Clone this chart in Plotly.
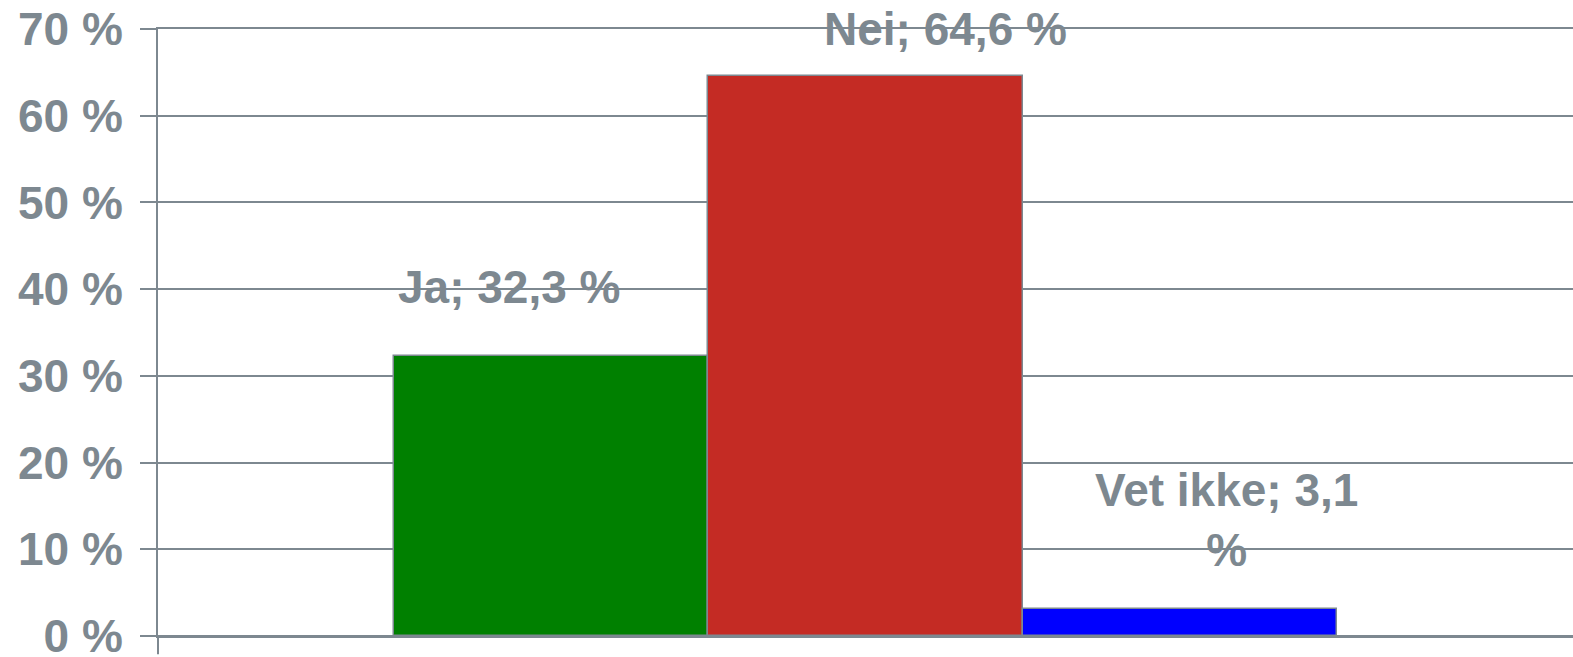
import plotly.graph_objects as go

categories = ["Ja", "Nei", "Vet ikke"]
values = [32.3, 64.6, 3.1]
colors = ["#008000", "#c42b24", "#0000ff"]
tick_vals = [0, 10, 20, 30, 40, 50, 60, 70]
tick_text = [f"{v} %" for v in tick_vals]

# label placement (offsets relative to bar, in axis units / pixels) - style only
label_dx = [-0.134, 0.255, 0.148]
label_y = [40.25, 70.0, 13.35]
label_yshift = [0, 0, 0]
label_breaks = [False, False, True]

GRAY = "#7d8890"
FONT = "Liberation Sans, Arial, sans-serif"

fig = go.Figure()
xs = list(range(len(categories)))
fig.add_trace(go.Bar(
    x=xs, y=values, width=1,
    marker=dict(color=colors, line=dict(color=GRAY, width=1.5)),
    showlegend=False, hoverinfo="skip",
))

for i, (c, v) in enumerate(zip(categories, values)):
    num = f"{v:.1f}".replace(".", ",")
    txt = f"{c}; {num}<br>%" if label_breaks[i] else f"{c}; {num} %"
    fig.add_annotation(
        x=xs[i] + label_dx[i], y=label_y[i], xref="x", yref="y", yshift=label_yshift[i],
        text=f"<b>{txt}</b>", showarrow=False, xanchor="center", yanchor="middle",
        font=dict(family=FONT, size=46, color=GRAY),
    )

# axis line extending below the 0 line
fig.add_shape(type="line", xref="paper", yref="paper", x0=0, x1=0, y0=0, y1=-0.03,
              line=dict(color=GRAY, width=2))

fig.update_layout(
    width=1573, height=657,
    margin=dict(l=158, r=0, t=29, b=21, autoexpand=False),
    paper_bgcolor="white", plot_bgcolor="white",
    bargap=0,
    xaxis=dict(range=[-1.25, 3.25], showticklabels=False, showgrid=False, zeroline=False,
               showline=True, mirror=True, linecolor=GRAY, linewidth=2, ticks="",
               automargin=False),
    yaxis=dict(range=[0, 70], tickvals=tick_vals, ticktext=[f"<b>{t}</b>" for t in tick_text],
               showgrid=True, gridcolor=GRAY, gridwidth=2,
               showline=True, linecolor=GRAY, linewidth=2,
               zeroline=True, zerolinecolor=GRAY, zerolinewidth=2,
               ticks="outside", ticklen=16, tickcolor=GRAY, tickwidth=2,
               ticklabelstandoff=8, ticklabeloverflow="allow", automargin=False,
               tickfont=dict(family=FONT, size=46, color=GRAY)),
)

fig.write_html("out.html", config={"displayModeBar": False},
               post_script="document.body.style.margin='0';document.body.style.overflow='hidden';")
